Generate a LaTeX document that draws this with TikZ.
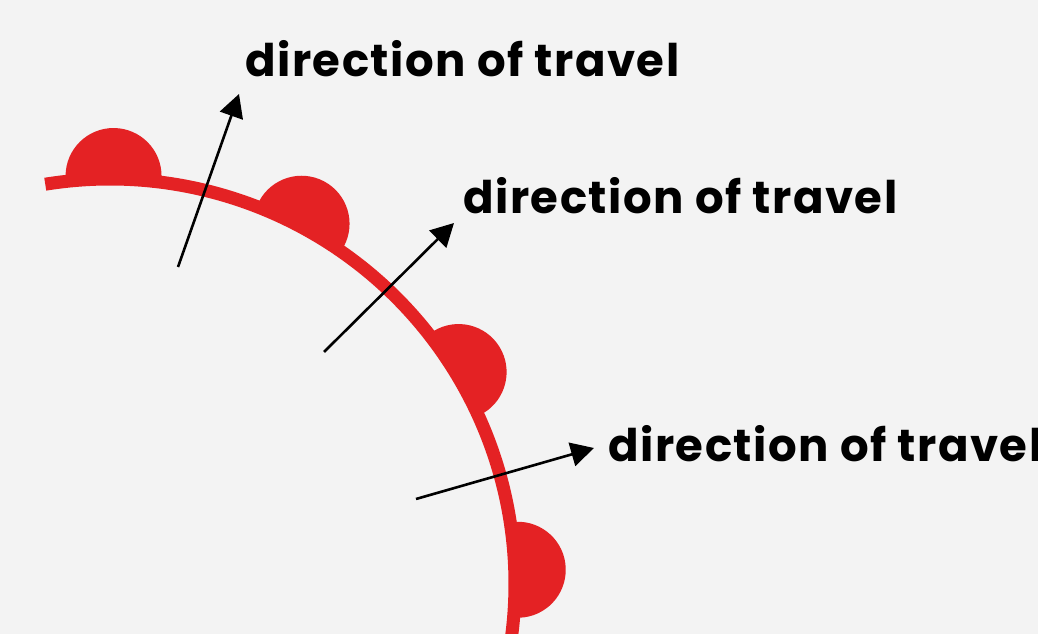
\documentclass[tikz,border=0pt]{standalone}
\usepackage{fontspec}
\setmainfont{Poppins}
\newfontfamily\travelfont{Poppins}[LetterSpace=3.4]
\usepackage{tikz}
\usetikzlibrary{arrows.meta, calc}
\definecolor{paper}{RGB}{243, 243, 243}
\definecolor{wheelred}{RGB}{228, 34, 36}

\begin{document}
\begin{tikzpicture}[
      x=1pt, y=1pt,
      rim/.style    = {draw=wheelred, line width=13pt},
      bump/.style   = {fill=wheelred},
      travel/.style = {-{Triangle[length=23pt, width=24pt]}, line width=2.6pt, black},
      lbl/.style    = {anchor=base west, inner sep=0pt,
                       font=\travelfont\fontsize{45}{50}\selectfont\bfseries},
    ]

    % --- Sfondo ---
    \fill[paper] (0,0) rectangle (1038,634);
    \useasboundingbox (0,0) rectangle (1038,634);

    % --- Ruota (centro e raggio) ---
    \def\rimR{405}
    \def\bumpR{48}
    \coordinate (O) at (110,50);

    \draw[rim] ($(O)+(99.2:\rimR)$) arc[start angle=99.2, end angle=-7.5, radius=\rimR];

    % --- Semicerchi sul bordo ---
    \foreach \a in {89.5, 62, 31.3, 2}{
      \fill[bump] ($(O)+(\a:408)$) ++(\a-90:\bumpR)
        arc[start angle=\a-90, end angle=\a+90, radius=\bumpR] -- cycle;
    }

    % --- Frecce (direzione) ---
    \coordinate (tail1) at (178,367);
    \coordinate (tip1)  at (239,540);
    \coordinate (tail2) at (324,282);
    \coordinate (tip2)  at (454,411);
    \coordinate (tail3) at (416,135);
    \coordinate (tip3)  at (594,186);

    \draw[travel] (tail1) -- (tip1);
    \draw[travel] (tail2) -- (tip2);
    \draw[travel] (tail3) -- (tip3);

    % --- Etichette ---
    \node[lbl] (lbl1) at (245,557) {direction of travel};
    \node[lbl] (lbl2) at (463,420) {direction of travel};
    \node[lbl] (lbl3) at (608,172) {direction of travel};

  \end{tikzpicture}
\end{document}
